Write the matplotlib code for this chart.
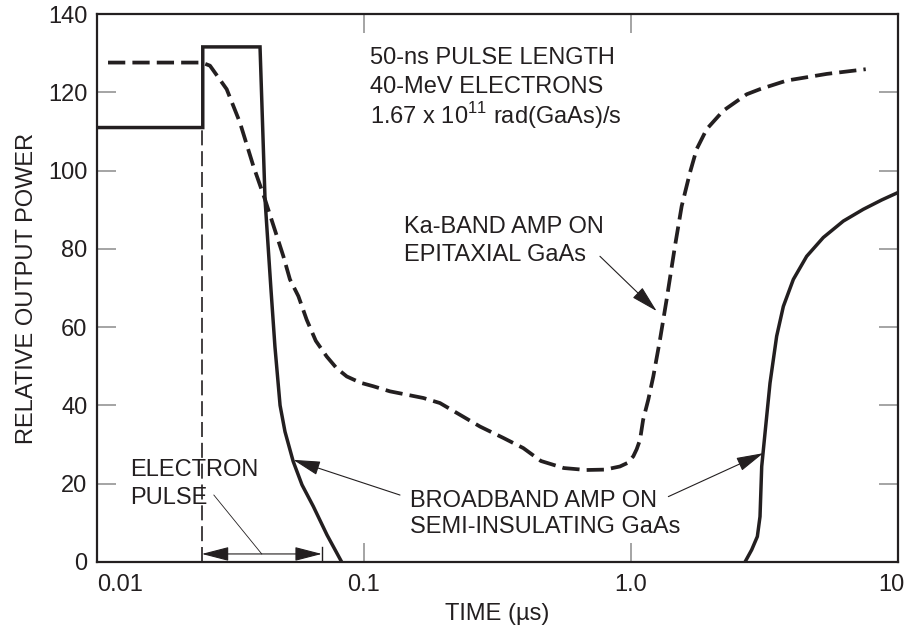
import matplotlib
matplotlib.use("Agg")
import matplotlib.pyplot as plt
from matplotlib.ticker import NullLocator

plt.rcParams['font.family'] = ['Liberation Sans', 'DejaVu Sans']
plt.rcParams['mathtext.fontset'] = 'custom'
plt.rcParams['mathtext.rm'] = 'Liberation Sans'
plt.rcParams['font.size'] = 17

ink = '#231f20'
tick_gray = '#8c8c8c'

# broadband amp on semi-insulating GaAs (solid), early part
bb_fast_t = [0.01, 0.0249, 0.0249, 0.0408, 0.0426, 0.0448, 0.0464, 0.0485, 0.0506,
             0.0543, 0.0586, 0.0646, 0.0727, 0.0825]
bb_fast_p = [111.0, 111.0, 131.6, 131.6, 92.6, 70.0, 55.0, 40.0, 33.3,
             25.7, 19.7, 14.2, 6.9, 0.0]

# broadband amp, recovery
bb_slow_t = [2.673, 2.831, 2.973, 3.042, 3.087, 3.176, 3.316, 3.512, 3.72, 4.055,
             4.549, 5.25, 6.24, 7.41, 8.69, 10.0]
bb_slow_p = [0.0, 3.1, 6.5, 11.6, 24.4, 32.9, 45.7, 57.7, 65.3, 72.2,
             78.1, 82.9, 87.1, 90.1, 92.5, 94.4]

# Ka-band amp on epitaxial GaAs (dashed)
ka_t = [0.011, 0.0247, 0.0265, 0.0306, 0.0343, 0.0385, 0.0426, 0.0499, 0.0528, 0.0568,
        0.061, 0.066, 0.0725, 0.079, 0.0862, 0.097, 0.1083, 0.125, 0.1668, 0.1926,
        0.2224, 0.272, 0.3324, 0.395, 0.46, 0.56, 0.68, 0.8, 0.909, 0.97, 1.02, 1.05,
        1.081, 1.11, 1.161, 1.212, 1.284, 1.36, 1.461, 1.548, 1.663, 1.762, 1.921,
        2.216, 2.713, 3.04, 3.83, 5.41, 7.57]
ka_p = [127.6, 127.6, 126.8, 120.8, 112.3, 101.2, 92.6, 78.1, 72.2, 67.9,
        61.9, 56.5, 52.5, 49.5, 47.4, 45.8, 44.9, 43.6, 41.9, 40.6,
        38.1, 34.6, 31.7, 29.1, 25.8, 24.0, 23.5, 23.6, 24.4, 25.3, 27.0, 28.8,
        31.2, 36.3, 41.5, 47.4, 56.8, 67.1, 80.7, 90.9, 99.5, 105.5, 110.6,
        115.3, 119.5, 120.8, 123.0, 124.7, 125.9]

pulse_start = 0.0247
pulse_end = 0.0695
pulse_level = 111.0

x_ticks = [0.01, 0.1, 1.0, 10.0]
x_tick_labels = ['0.01', '0.1', '1.0', '10']
y_ticks = [0, 20, 40, 60, 80, 100, 120, 140]

fig = plt.figure(figsize=(9.08, 6.32), dpi=100)
ax = fig.add_axes([0.1068, 0.1108, 0.8822, 0.867])

ax.plot(bb_fast_t, bb_fast_p, color=ink, lw=2.5, solid_joinstyle='miter')
ax.plot(bb_slow_t, bb_slow_p, color=ink, lw=2.5)
ka_line, = ax.plot(ka_t, ka_p, color=ink, lw=2.7)
ka_line.set_dashes((4.6, 1.9))
pulse_line, = ax.plot([pulse_start, pulse_start], [0, pulse_level], color=ink, lw=1.2)
pulse_line.set_dashes((9, 3.5))

ax.set_xscale('log')
ax.set_xlim(0.01, 10)
ax.set_ylim(0, 140)
ax.xaxis.set_minor_locator(NullLocator())
ax.set_xticks(x_ticks)
# the last label sits a little left of its tick so it stays inside the figure
ax.set_xticklabels(x_tick_labels[:-1] + [''])
ax.annotate(x_tick_labels[-1], xy=(x_ticks[-1], 0), xycoords='data',
            xytext=(-4.5, -9), textcoords='offset points',
            ha='center', va='top', color=ink, fontsize=17, annotation_clip=False)
ax.set_yticks(y_ticks)
ax.get_xticklabels()[0].set_horizontalalignment('left')
ax.tick_params(which='both', direction='in', top=True, right=True, length=14,
               width=1.1, color=tick_gray, labelcolor=ink, labelsize=17)
ax.tick_params(axis='x', pad=9)
ax.tick_params(axis='y', pad=7)
for s in ax.spines.values():
    s.set_linewidth(1.6)
    s.set_color(ink)

ax.set_xlabel('TIME (µs)', color=ink, labelpad=5)
ax.set_ylabel('RELATIVE OUTPUT POWER', color=ink, labelpad=7)

# condition text
ax.text(0.1053, 127.3, '50-ns PULSE LENGTH', color=ink, va='baseline')
ax.text(0.1053, 119.9, '40-MeV ELECTRONS', color=ink, va='baseline')
ax.text(0.1053, 111.9, '1.67 x 10$^{11}$ rad(GaAs)/s', color=ink, va='baseline')

ax.text(0.1412, 84.1, 'Ka-BAND AMP ON', color=ink, va='baseline')
ax.text(0.1412, 77.0, 'EPITAXIAL GaAs', color=ink, va='baseline')

ax.text(0.1487, 14.15, 'BROADBAND AMP ON', color=ink, va='baseline')
ax.text(0.1487, 7.35, 'SEMI-INSULATING GaAs', color=ink, va='baseline')

ax.text(0.0133, 22.0, 'ELECTRON', color=ink, va='baseline')
ax.text(0.0133, 14.85, 'PULSE', color=ink, va='baseline')

arrow = dict(arrowstyle='-|>,head_length=0.85,head_width=0.22', mutation_scale=20,
             lw=0.8, color=ink, shrinkA=0, shrinkB=0)
ax.annotate('', xy=(1.248, 64.1), xytext=(0.765, 78.1), arrowprops=arrow)
ax.annotate('', xy=(0.0543, 26.1), xytext=(0.1364, 17.1), arrowprops=arrow)
ax.annotate('', xy=(3.13, 27.8), xytext=(1.38, 16.7), arrowprops=arrow)

# pulse width marker
ax.annotate('', xy=(pulse_start, 2.05), xytext=(pulse_end, 2.05),
            arrowprops=dict(arrowstyle='<|-|>,head_length=0.85,head_width=0.22',
                            mutation_scale=20, lw=0.8, color=ink, shrinkA=0, shrinkB=0))
ax.plot([pulse_end, pulse_end], [0, 3.9], color=ink, lw=1.0)
ax.plot([0.0274, 0.0414], [17.1, 2.05], color=ink, lw=0.6)

fig.savefig('out.png', dpi=100)
